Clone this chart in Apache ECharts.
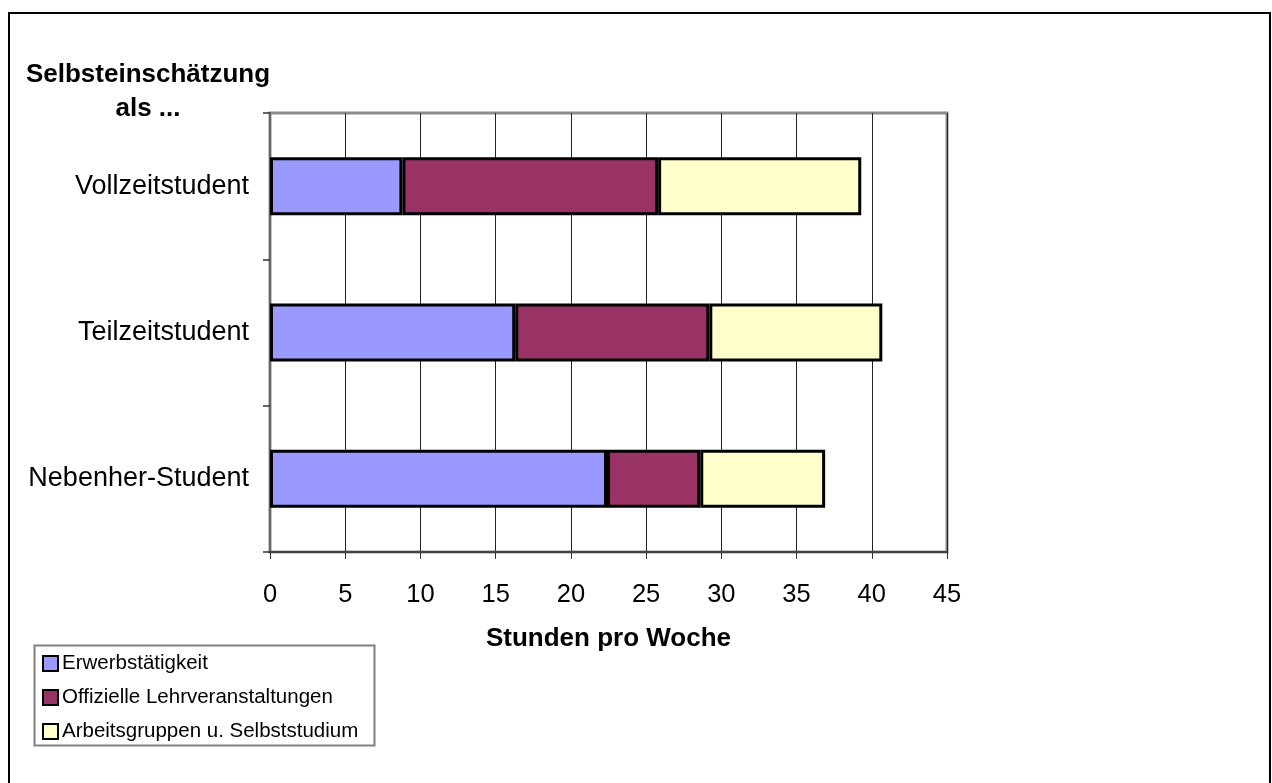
<!DOCTYPE html>
<html>
<head>
<meta charset="utf-8">
<script src="https://cdn.jsdelivr.net/npm/echarts@6/dist/echarts.min.js"></script>
<style>
  html, body { margin: 0; padding: 0; background: #fff; }
  #chart { width: 1272px; height: 783px; }
</style>
</head>
<body>
<div id="chart"></div>
<script>
// Weekly hours by self-assessed student type
const categories = ['Vollzeitstudent', 'Teilzeitstudent', 'Nebenher-Student'];
const seriesNames = ['Erwerbstätigkeit', 'Offizielle Lehrveranstaltungen', 'Arbeitsgruppen u. Selbststudium'];
const erwerb = [8.8, 16.3, 22.4];
const lehrveranstaltungen = [17.0, 12.9, 6.2];
const selbststudium = [13.5, 11.5, 8.3];
const xTicks = [0, 5, 10, 15, 20, 25, 30, 35, 40, 45];

const FONT = '"Liberation Sans", Arial, sans-serif';
const colors = ['#9999FF', '#993366', '#FFFFCC'];
const values = [erwerb, lehrveranstaltungen, selbststudium];

const chart = echarts.init(document.getElementById('chart'), null, { renderer: 'canvas' });

const series = seriesNames.map((name, i) => ({
  name: name,
  type: 'bar',
  stack: 'total',
  barWidth: 58,
  data: values[i],
  itemStyle: { color: colors[i], borderColor: '#000', borderWidth: 3 },
  emphasis: { disabled: true },
  animation: false
}));

chart.setOption({
  animation: false,
  textStyle: { fontFamily: FONT },
  title: {
    text: 'Selbsteinschätzung\nals ...',
    left: 148,
    top: 58,
    textAlign: 'center',
    padding: 0,
    textStyle: { fontFamily: FONT, fontSize: 26, fontWeight: 'bold', color: '#000', lineHeight: 34 }
  },
  grid: {
    left: 270, right: 325, top: 113, bottom: 231,
    show: true, borderColor: '#8c8c8c', borderWidth: 3, backgroundColor: '#fff'
  },
  legend: {
    orient: 'vertical',
    left: 42,
    top: 653,
    padding: 0,
    itemWidth: 15,
    itemHeight: 15,
    itemGap: 13,
    icon: 'rect',
    selectedMode: false,
    itemStyle: { borderWidth: 2, borderColor: '#000' },
    textStyle: { fontFamily: FONT, fontSize: 20.5, color: '#000', padding: [0, 0, 0, -1] },
    data: seriesNames
  },
  xAxis: {
    type: 'value',
    min: xTicks[0],
    max: xTicks[xTicks.length - 1],
    interval: xTicks[1] - xTicks[0],
    name: 'Stunden pro Woche',
    nameLocation: 'middle',
    nameGap: 74,
    nameTextStyle: { fontFamily: FONT, fontSize: 26, fontWeight: 'bold', color: '#000' },
    axisLine: { show: true, lineStyle: { color: '#444', width: 2 } },
    axisTick: { show: true, length: 7, lineStyle: { color: '#333', width: 1 } },
    axisLabel: { fontFamily: FONT, fontSize: 25.5, color: '#000', margin: 30 },
    splitLine: { show: true, lineStyle: { color: '#222', width: 1 } }
  },
  yAxis: {
    type: 'category',
    data: categories,
    inverse: true,
    axisLine: { show: true, lineStyle: { color: '#666', width: 2 } },
    axisTick: { show: true, alignWithLabel: false, length: 7, lineStyle: { color: '#333', width: 1.5 } },
    axisLabel: { fontFamily: FONT, fontSize: 27, color: '#000', margin: 21 },
    splitLine: { show: false }
  },
  series: series,
  graphic: [
    {
      type: 'rect',
      silent: true,
      z: 100,
      shape: { x: 9, y: 13, width: 1261, height: 800 },
      style: { fill: 'none', stroke: '#000', lineWidth: 2 }
    },
    {
      type: 'rect',
      silent: true,
      z: -1,
      shape: { x: 34.5, y: 645.5, width: 340, height: 100 },
      style: { fill: '#fff', stroke: '#808080', lineWidth: 2 }
    }
  ]
});
</script>
</body>
</html>
